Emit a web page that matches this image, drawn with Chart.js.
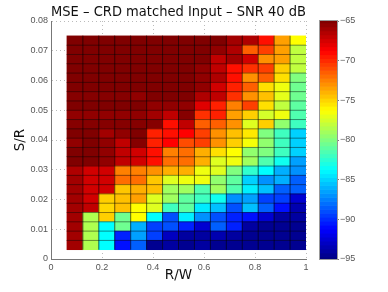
<!DOCTYPE html>
<html>
<head>
<meta charset="utf-8">
<title>MSE</title>
<script src="https://cdn.jsdelivr.net/npm/chart.js@4"></script>
<style>
html, body { margin: 0; padding: 0; background: #fff; }
canvas { position: absolute; }
</style>
</head>
<body>
<canvas id="chart" width="388" height="292" style="left:0;top:0"></canvas>
<canvas id="colorbar" width="69" height="292" style="left:319px;top:0"></canvas>
<script>
// R/W cell centres and edges
var rwValues = [0.09375, 0.15625, 0.21875, 0.28125, 0.34375, 0.40625, 0.46875, 0.53125, 0.59375, 0.65625, 0.71875, 0.78125, 0.84375, 0.90625, 0.96875];
var rwEdges = [0.0625, 0.125, 0.1875, 0.25, 0.3125, 0.375, 0.4375, 0.5, 0.5625, 0.625, 0.6875, 0.75, 0.8125, 0.875, 0.9375, 1];
// S/R cell edges, top to bottom
var srEdges = [0.075, 0.071875, 0.06875, 0.065625, 0.0625, 0.059375, 0.05625, 0.053125, 0.05, 0.046875, 0.04375, 0.040625, 0.0375, 0.034375, 0.03125, 0.028125, 0.025, 0.021875, 0.01875, 0.015625, 0.0125, 0.009375, 0.00625, 0.003125];

// MSE in dB, one row per S/R step
var mse00 = [-65, -65, -65, -65, -65, -65, -65, -65, -65, -65, -66, -66.4, -69.2, -73.45, -76.25];
var mse01 = [-65, -65, -65, -65, -65, -65, -65, -65, -65, -65.5, -66.4, -71.55, -70.6, -73.45, -78.1];
var mse02 = [-65, -65, -65, -65, -65, -65, -65, -65, -65, -66.9, -66, -67.4, -73, -73.45, -78.1];
var mse03 = [-65, -65, -65, -65, -65, -65, -65, -65, -65.5, -66.9, -69.2, -70.15, -70.6, -74.85, -78.1];
var mse04 = [-65, -65, -65, -65, -65, -65, -65, -65, -65.5, -66.4, -69.2, -73, -71.55, -75.35, -80];
var mse05 = [-65, -65, -65, -65, -65, -65, -65, -65, -65.5, -67.4, -69.7, -71.55, -75.35, -76.7, -80.5];
var mse06 = [-65.2, -65.2, -65.2, -65.2, -65.5, -65, -65, -65, -66.4, -66.9, -70.15, -73, -74.4, -77, -80.5];
var mse07 = [-65, -65, -65, -65, -65, -65.5, -65.5, -65.5, -67.85, -69.7, -72.5, -70.6, -75.35, -78.1, -81];
var mse08 = [-65.5, -65.5, -65.5, -65.5, -65.5, -66, -66.9, -65.2, -70.15, -69.7, -73.45, -74.85, -77.5, -76.7, -81.4];
var mse09 = [-65.2, -65.2, -65.2, -65.2, -65.2, -65.2, -69.2, -66.9, -71.55, -71.55, -73, -77.2, -74.85, -79.5, -81.9];
var mse10 = [-65, -65, -66, -65.5, -65, -69.7, -69.2, -68.75, -70.6, -73, -74.4, -75.6, -80, -81.9, -85.1];
var mse11 = [-65.5, -65, -65.5, -66.9, -65.2, -69.7, -68.75, -71, -70.6, -73, -74.85, -76.5, -79.5, -81.9, -85.1];
var mse12 = [-65, -65, -65.5, -66.9, -67.4, -69.2, -72.5, -72, -73.9, -75.35, -76.25, -79.5, -80, -81.9, -85.1];
var mse13 = [-65, -65, -65.5, -66.9, -67.4, -69.2, -72, -72, -73.9, -77.2, -76.7, -79.05, -81.4, -83.3, -86.55];
var mse14 = [-66.4, -67.4, -67.4, -72.5, -72.5, -73, -73.9, -73.9, -76.7, -77.2, -80, -82.35, -83.75, -86.1, -87];
var mse15 = [-66, -67.4, -67.4, -72, -72, -74.6, -77.2, -76.7, -76.7, -79.5, -80.95, -85.1, -87, -86.1, -88.45];
var mse16 = [-66, -67.4, -67.4, -74.6, -73.9, -74.4, -79.05, -79.05, -81.4, -79.05, -81.4, -84.2, -85.6, -88.45, -88.45];
var mse17 = [-66, -67.4, -74.85, -74.4, -73.45, -77.2, -79.05, -80.95, -81.9, -83.3, -87, -86.55, -89.4, -89.4, -92.6];
var mse18 = [-66, -66.9, -75.1, -74.4, -76.25, -77.2, -81.9, -80.95, -84.35, -85.6, -88.9, -85.6, -88.45, -90.8, -93.6];
var mse19 = [-66, -78.6, -74.85, -80.5, -76.25, -83.75, -88.9, -84.2, -87, -88.9, -90.3, -90.8, -92.6, -94.05, -94.05];
var mse20 = [-66, -78.6, -83.75, -80.5, -86.1, -89.4, -88.9, -90.3, -92.6, -88.45, -90.3, -94.05, -94.5, -94.5, -94.5];
var mse21 = [-66, -78.6, -83.75, -90.3, -86.55, -89.4, -93.1, -94.05, -94.05, -93.6, -94.05, -94.5, -94.5, -94.5, -94.5];
var mse22 = [-66, -78.6, -83.75, -90.8, -88.45, -94.5, -94.05, -94.5, -94.05, -94.5, -94.5, -94.5, -94.5, -94.5, -94.5];
var mseRows = [mse00, mse01, mse02, mse03, mse04, mse05, mse06, mse07, mse08, mse09, mse10, mse11, mse12, mse13, mse14, mse15, mse16, mse17, mse18, mse19, mse20, mse21, mse22];

// colorbar steps and ticks
var barLevels = [-95, -94.5, -94, -93.5, -93, -92.5, -92, -91.5, -91, -90.5, -90, -89.5, -89, -88.5, -88, -87.5, -87, -86.5, -86, -85.5, -85, -84.5, -84, -83.5, -83, -82.5, -82, -81.5, -81, -80.5, -80, -79.5, -79, -78.5, -78, -77.5, -77, -76.5, -76, -75.5, -75, -74.5, -74, -73.5, -73, -72.5, -72, -71.5, -71, -70.5, -70, -69.5, -69, -68.5, -68, -67.5, -67, -66.5, -66, -65.5, -65];
var barTicks = [-95, -90, -85, -80, -75, -70, -65];

var titleText = 'MSE \u2013 CRD matched Input \u2013 SNR 40 dB';
var tickColor = '#555';

// jet colormap over -95..-65
function jet(v) {
    var t = (v + 95) / 30;
    function c(x) { return Math.round(255 * Math.max(0, Math.min(1, x))); }
    var r = c(Math.min(4 * t - 1.5, 4.5 - 4 * t));
    var g = c(Math.min(4 * t - 0.5, 3.5 - 4 * t));
    var b = c(Math.min(4 * t + 0.5, 2.5 - 4 * t));
    return 'rgb(' + r + ',' + g + ',' + b + ')';
}

function tickText(v) { return String(+v.toFixed(2)); }

var cells = [];
mseRows.forEach(function (row, r) {
    row.forEach(function (v, c) {
        cells.push({ x: rwValues[c], y: [srEdges[r + 1], srEdges[r]], v: v });
    });
});

var datasets = [{
    type: 'bar',
    order: 2,
    data: cells,
    barPercentage: 1,
    categoryPercentage: 1,
    backgroundColor: function (ctx) { return jet(ctx.raw.v); }
}];

// black mesh lines between the cells
function addMesh(a, b, color) {
    datasets.push({
        type: 'line',
        order: 1,
        data: [a, b],
        borderColor: color,
        borderWidth: 1,
        pointRadius: 0
    });
}
srEdges.slice(1, -1).forEach(function (e) {
    addMesh({ x: rwEdges[0], y: e }, { x: 1, y: e }, 'rgba(0,0,0,0.45)');
});
rwEdges.slice(1, -1).forEach(function (e) {
    addMesh({ x: e, y: srEdges[srEdges.length - 1] }, { x: e, y: srEdges[0] }, 'rgba(0,0,0,0.6)');
});

new Chart(document.getElementById('chart').getContext('2d'), {
    type: 'bar',
    data: { datasets: datasets },
    options: {
        responsive: false,
        animation: false,
        layout: { padding: { right: 82 } },
        plugins: {
            legend: { display: false },
            tooltip: { enabled: false },
            title: {
                display: true,
                fullSize: false,
                text: titleText,
                color: '#111',
                font: { family: 'DejaVu Sans', size: 13.75, weight: 'normal', lineHeight: 1.2 },
                padding: { top: 4.5, bottom: 0 }
            }
        },
        scales: {
            x: {
                type: 'linear',
                min: 0,
                max: 1,
                offset: false,
                grid: { offset: false, color: '#bbb', drawTicks: false },
                border: { color: '#777', dash: [1, 3] },
                ticks: { stepSize: 0.2, color: tickColor, padding: 3, maxRotation: 0, font: { family: 'Liberation Sans', size: 9 }, callback: tickText },
                title: { display: true, text: 'R/W', color: '#111', padding: { top: 0, bottom: 8 }, font: { family: 'DejaVu Sans', size: 13.5, lineHeight: 1.2 } },
                afterFit: function (scale) { scale.height = 33; }
            },
            y: {
                min: 0,
                max: 0.08,
                grid: { color: '#bbb', drawTicks: false },
                border: { color: '#777', dash: [1, 3] },
                ticks: { stepSize: 0.01, color: tickColor, padding: 3, font: { family: 'Liberation Sans', size: 9 }, callback: tickText },
                title: { display: true, text: 'S/R', color: '#111', padding: { top: 12, bottom: 0 }, font: { family: 'DejaVu Sans', size: 13.5, lineHeight: 1.2 } },
                afterFit: function (scale) { scale.width = 51; }
            }
        }
    }
});

var frame = {
    id: 'frame',
    afterDatasetsDraw: function (chart) {
        var a = chart.chartArea, c = chart.ctx;
        c.save();
        c.strokeStyle = '#999';
        c.strokeRect(a.left - 0.5, a.top - 0.5, a.right - a.left + 1, a.bottom - a.top + 1);
        c.restore();
    }
};

new Chart(document.getElementById('colorbar').getContext('2d'), {
    type: 'bar',
    plugins: [frame],
    data: {
        datasets: [{
            data: barLevels.map(function (l) { return { x: 1, y: l }; }),
            barPercentage: 1,
            categoryPercentage: 1,
            backgroundColor: function (ctx) { return jet(ctx.raw.y); }
        }]
    },
    options: {
        indexAxis: 'y',
        responsive: false,
        animation: false,
        layout: { padding: { top: 21, bottom: 33, left: 1 } },
        plugins: { legend: { display: false }, tooltip: { enabled: false } },
        scales: {
            x: { display: false, min: 0, max: 1, offset: false },
            y: {
                type: 'linear',
                position: 'right',
                min: -95,
                max: -65,
                offset: false,
                afterBuildTicks: function (scale) { scale.ticks = barTicks.map(function (v) { return { value: v }; }); },
                grid: { offset: false, drawOnChartArea: false, color: '#777', tickLength: 2 },
                border: { display: false },
                ticks: {
                    color: tickColor,
                    padding: 1,
                    font: { family: 'Liberation Sans', size: 9 },
                    callback: function (v) { return '\u2212' + Math.abs(v); }
                },
                afterFit: function (scale) { scale.width = 51; }
            }
        }
    }
});
</script>
</body>
</html>
